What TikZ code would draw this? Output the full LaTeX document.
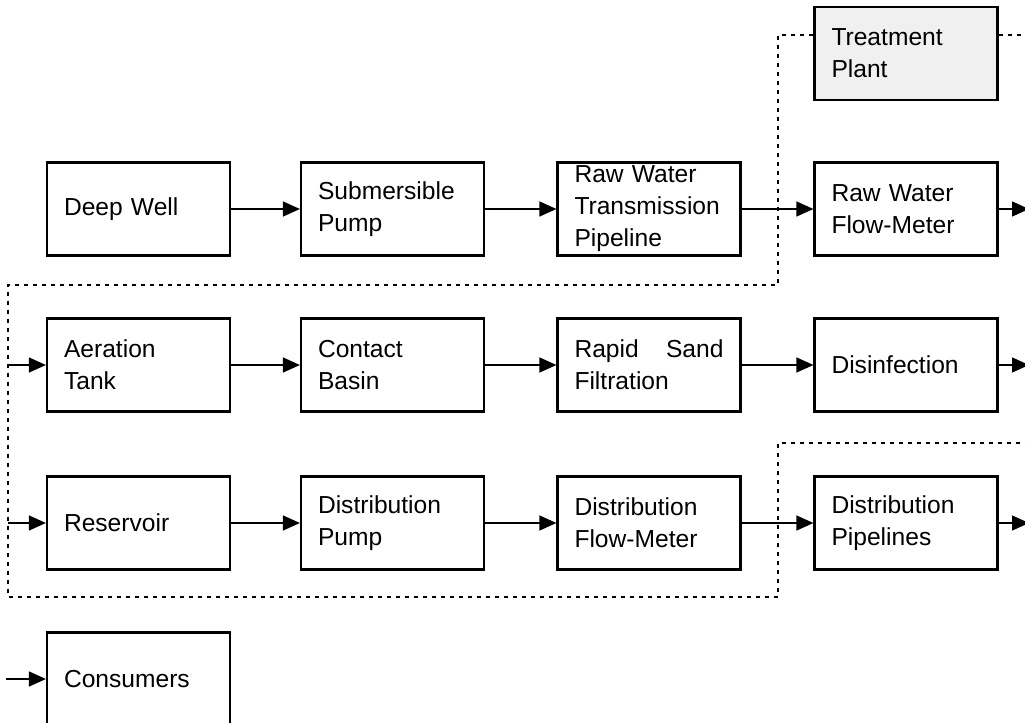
\documentclass[tikz,border=0pt]{standalone}
\usepackage{fontspec}
\setmainfont{Liberation Sans}
\usetikzlibrary{arrows.meta}

\begin{document}
\begin{tikzpicture}[x=0.5pt,y=-0.5pt,
    unit/.style={draw,line width=1.1pt,minimum width=91.5pt,minimum height=46.5pt,
      text width=74.5pt,align=left,inner xsep=7pt,inner ysep=0pt,
      font=\fontsize{12.3}{16}\selectfont},
    flow/.style={line width=0.7pt,-{Triangle[length=8.5pt,width=7.5pt]}},
    bound/.style={line width=1.3pt,dash pattern=on 2pt off 2.5pt}]
        \clip (0,0) rectangle (1025,723);
        % treatment plant
        \node[unit,fill=black!6] (plant) at (906,53.5) {Treatment\\Plant};
        % first row
        \node[unit] (well) at (138.5,209) {Deep Well};
        \node[unit] (pump) at (392.5,209) {Submersible\\Pump};
        \node[unit] (rawpipe) at (649,209) {Raw Water\\Transmission\\Pipeline};
        \node[unit] (rawmeter) at (906,209) {Raw Water\\Flow-Meter};
        % second row
        \node[unit] (aeration) at (138.5,365) {Aeration\\Tank};
        \node[unit] (basin) at (392.5,365) {Contact\\Basin};
        \node[unit] (filter) at (649,365) {Rapid\hfill Sand\\Filtration};
        \node[unit] (disinf) at (906,365) {Disinfection};
        % third row
        \node[unit] (reservoir) at (138.5,523) {Reservoir};
        \node[unit] (distpump) at (392.5,523) {Distribution\\Pump};
        \node[unit] (distmeter) at (649,523) {Distribution\\Flow-Meter};
        \node[unit] (distpipe) at (906,523) {Distribution\\Pipelines};
        % last row
        \node[unit] (consumers) at (138.5,679) {Consumers};
        % loose ends
        \coordinate (out1) at (1029,209);
        \coordinate (out2) at (1029,365);
        \coordinate (out3) at (1029,523);
        \coordinate (in2) at (8,365);
        \coordinate (in3) at (8,523);
        \coordinate (in4) at (6,679);
        \draw[flow] (well) -- (pump);
        \draw[flow] (pump) -- (rawpipe);
        \draw[flow] (rawpipe) -- (rawmeter);
        \draw[flow] (rawmeter) -- (out1);
        \draw[flow] (in2) -- (aeration);
        \draw[flow] (aeration) -- (basin);
        \draw[flow] (basin) -- (filter);
        \draw[flow] (filter) -- (disinf);
        \draw[flow] (disinf) -- (out2);
        \draw[flow] (in3) -- (reservoir);
        \draw[flow] (reservoir) -- (distpump);
        \draw[flow] (distpump) -- (distmeter);
        \draw[flow] (distmeter) -- (distpipe);
        \draw[flow] (distpipe) -- (out3);
        \draw[flow] (in4) -- (consumers);
        % treatment plant boundary
        \coordinate (b1) at (778,35);
        \draw[bound] (plant.west |- b1) -- (b1) -- (778,285) -- (8,285) -- (8,597)
            -- (778,597) -- (778,443) -- (1025,443);
        \draw[bound] (plant.east |- b1) -- (1025,35);
    \end{tikzpicture}
\end{document}
